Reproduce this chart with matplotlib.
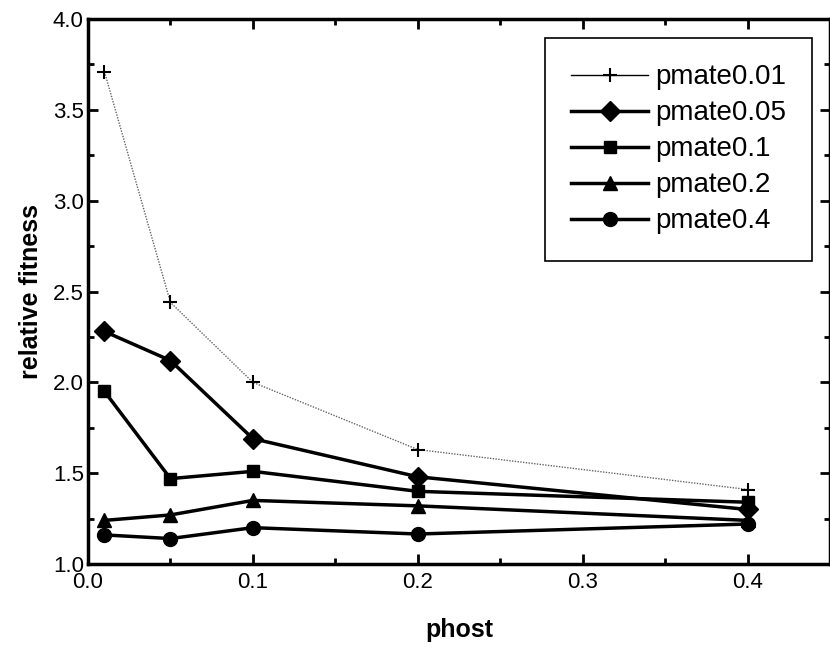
import matplotlib
matplotlib.use("Agg")
import matplotlib.pyplot as plt
from matplotlib.ticker import MultipleLocator

phost = [0.01, 0.05, 0.1, 0.2, 0.4]
labels = ["pmate0.01", "pmate0.05", "pmate0.1", "pmate0.2", "pmate0.4"]
pmate001 = [3.71, 2.44, 2.00, 1.63, 1.41]
pmate005 = [2.28, 2.12, 1.69, 1.48, 1.30]
pmate01 = [1.95, 1.47, 1.51, 1.40, 1.34]
pmate02 = [1.24, 1.27, 1.35, 1.32, 1.24]
pmate04 = [1.16, 1.14, 1.20, 1.165, 1.22]

plt.rcParams['font.family'] = ['Liberation Sans', 'DejaVu Sans']

fig = plt.figure(figsize=(8.3, 6.47), dpi=100)
ax = fig.add_axes([0.106, 0.1283, 0.894, 0.8423])

ax.plot(phost, pmate001, color='#666666', lw=1.0, ls=(0, (1, 1)), marker='+', ms=10, mew=1.5,
        mec='black', label=labels[0])
ax.plot(phost, pmate005, color='black', lw=2.5, marker='D', ms=10, label=labels[1])
ax.plot(phost, pmate01, color='black', lw=2.5, marker='s', ms=9, label=labels[2])
ax.plot(phost, pmate02, color='black', lw=2.5, marker='^', ms=10, label=labels[3])
ax.plot(phost, pmate04, color='black', lw=2.5, marker='o', ms=10, label=labels[4])

ax.set_xlim(0.0, 0.45)
ax.set_ylim(1.0, 4.0)
ax.xaxis.set_major_locator(MultipleLocator(0.1))
ax.xaxis.set_minor_locator(MultipleLocator(0.05))
ax.yaxis.set_major_locator(MultipleLocator(0.5))
ax.yaxis.set_minor_locator(MultipleLocator(0.25))
ax.set_xticks([0.0, 0.1, 0.2, 0.3, 0.4])
ax.set_xticklabels(["0.0", "0.1", "0.2", "0.3", "0.4"])
ax.tick_params(which='both', direction='in', top=True, right=True, width=2, labelsize=16)
ax.tick_params(which='major', length=7)
ax.tick_params(which='minor', length=4)
ax.tick_params(axis='y', pad=3)
ax.tick_params(axis='x', pad=6)
for s in ax.spines.values():
    s.set_linewidth(2.5)

ax.set_xlabel("phost", fontsize=18, fontweight='bold', labelpad=18)
ax.set_ylabel("relative fitness", fontsize=18, fontweight='bold', labelpad=7)

leg = ax.legend(loc='upper left', bbox_to_anchor=(0.616, 0.965), fontsize=20,
                handlelength=2.75, labelspacing=0.36, handletextpad=0.25,
                borderpad=0.95, fancybox=False, framealpha=1, edgecolor='black',
                borderaxespad=0)
leg.get_frame().set_linewidth(1.2)
for line in leg.get_lines():
    line.set_linestyle('-')
    line.set_color('black')
leg.get_lines()[0].set_linewidth(1.0)

fig.savefig("out.png", dpi=100)
